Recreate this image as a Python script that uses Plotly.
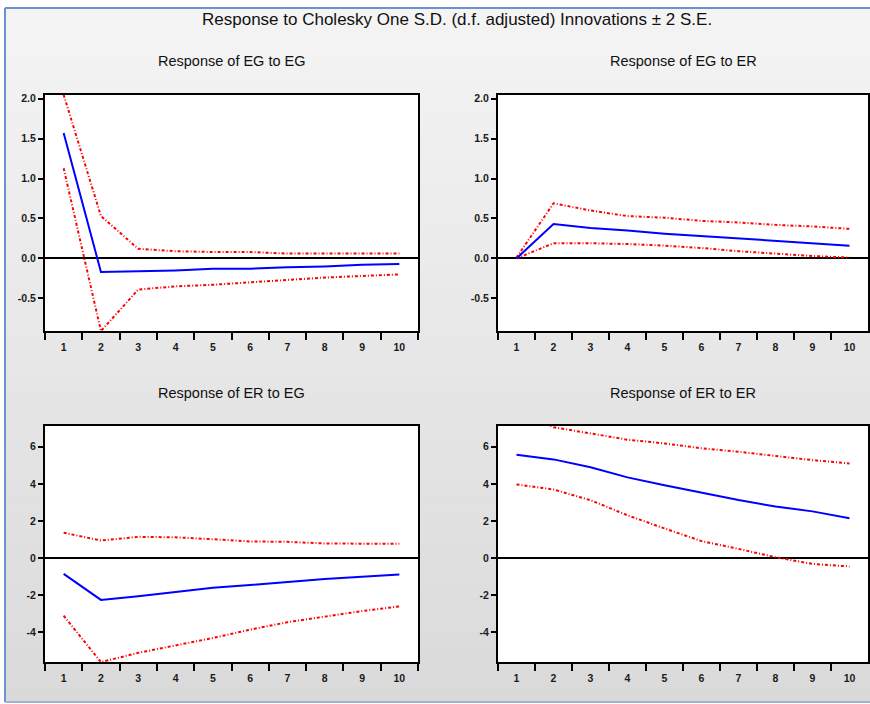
import plotly.graph_objects as go

# Impulse-response horizon (periods)
periods = ["1", "2", "3", "4", "5", "6", "7", "8", "9", "10"]

# Response of EG to EG
eg_eg = [1.57, -0.17, -0.16, -0.15, -0.13, -0.13, -0.11, -0.10, -0.08, -0.07]
eg_eg_hi = [2.05, 0.53, 0.12, 0.09, 0.08, 0.08, 0.06, 0.06, 0.06, 0.06]
eg_eg_lo = [1.13, -0.91, -0.39, -0.35, -0.33, -0.30, -0.27, -0.24, -0.22, -0.20]

# Response of EG to ER
eg_er = [0.0, 0.43, 0.38, 0.35, 0.31, 0.28, 0.25, 0.22, 0.19, 0.16]
eg_er_hi = [0.01, 0.69, 0.60, 0.53, 0.51, 0.47, 0.45, 0.42, 0.40, 0.37]
eg_er_lo = [0.0, 0.19, 0.19, 0.18, 0.16, 0.13, 0.09, 0.06, 0.03, 0.01]

# Response of ER to EG
er_eg = [-0.85, -2.25, -2.05, -1.82, -1.60, -1.45, -1.27, -1.12, -1.00, -0.88]
er_eg_hi = [1.37, 0.95, 1.15, 1.12, 1.02, 0.90, 0.88, 0.79, 0.78, 0.77]
er_eg_lo = [-3.10, -5.60, -5.10, -4.70, -4.30, -3.85, -3.45, -3.15, -2.85, -2.60]

# Response of ER to ER
er_er = [5.57, 5.32, 4.90, 4.35, 3.93, 3.52, 3.13, 2.78, 2.52, 2.15]
er_er_hi = [7.90, 7.05, 6.72, 6.38, 6.18, 5.92, 5.73, 5.50, 5.28, 5.10]
er_er_lo = [3.97, 3.70, 3.12, 2.31, 1.60, 0.92, 0.50, 0.05, -0.31, -0.45]

main_title = "Response to Cholesky One S.D. (d.f. adjusted) Innovations ± 2 S.E."
panel_titles = ["Response of EG to EG", "Response of EG to ER",
                "Response of ER to EG", "Response of ER to ER"]

eg_ticks = [-0.5, 0.0, 0.5, 1.0, 1.5, 2.0]
eg_ticktext = ["-0.5", "0.0", "0.5", "1.0", "1.5", "2.0"]
er_ticks = [-4, -2, 0, 2, 4, 6]
er_ticktext = ["-4", "-2", "0", "2", "4", "6"]

W, H = 870, 704


def px(x):
    return x / W


def py(y):
    return 1 - y / H


# panel boxes in pixels: (left, top, right, bottom)
boxes = [(45, 93, 418, 330), (498, 93, 868, 330),
         (45, 425, 418, 662), (498, 425, 868, 662)]

panels = [
    (eg_eg, eg_eg_lo, eg_eg_hi, eg_ticks, eg_ticktext, [-0.91, 2.05]),
    (eg_er, eg_er_lo, eg_er_hi, eg_ticks, eg_ticktext, [-0.91, 2.05]),
    (er_eg, er_eg_lo, er_eg_hi, er_ticks, er_ticktext, [-5.6, 7.13]),
    (er_er, er_er_lo, er_er_hi, er_ticks, er_ticktext, [-5.6, 7.13]),
]

FONT = "Liberation Sans, Arial, sans-serif"
RED = "#ff0000"
BLUE = "#0000ff"
TICKFONT = dict(size=10.5, family=FONT, color="#1a1a1a", weight="bold")

fig = go.Figure()
layout = dict(
    width=W, height=H,
    margin=dict(l=0, r=0, t=0, b=0),
    paper_bgcolor="#ffffff",
    plot_bgcolor="#ffffff",
    showlegend=False,
    font=dict(family=FONT, color="#111111"),
)

shapes = []
# soft vertical gradient for the window background
n_bands = 40
top_c = (0xF4, 0xF4, 0xF4)
bot_c = (0xDA, 0xDA, 0xDA)
y_top, y_bot = 6, 702
for i in range(n_bands):
    t = i / (n_bands - 1)
    c = tuple(round(top_c[k] + (bot_c[k] - top_c[k]) * t) for k in range(3))
    y0 = y_top + (y_bot - y_top) * i / n_bands
    y1 = y_top + (y_bot - y_top) * (i + 1) / n_bands
    shapes.append(dict(type="rect", xref="paper", yref="paper", layer="below",
                       x0=px(5), x1=1, y0=py(y1 + 0.5), y1=py(y0),
                       fillcolor="rgb(%d,%d,%d)" % c, line=dict(width=0)))
# white plot areas on top of the gradient
for (l, t, r, b) in boxes:
    shapes.append(dict(type="rect", xref="paper", yref="paper", layer="below",
                       x0=px(l), x1=px(r), y0=py(b), y1=py(t),
                       fillcolor="#ffffff", line=dict(width=0)))
# window border lines
border = "#6a93cf"
shapes.append(dict(type="line", xref="paper", yref="paper", x0=px(5), x1=px(5),
                   y0=py(702), y1=py(6), line=dict(color=border, width=2)))
shapes.append(dict(type="line", xref="paper", yref="paper", x0=px(5), x1=1,
                   y0=py(6), y1=py(6), line=dict(color=border, width=2)))
shapes.append(dict(type="line", xref="paper", yref="paper", x0=px(5), x1=1,
                   y0=py(702), y1=py(702), line=dict(color="#9fb3cf", width=2)))

annotations = [dict(text=main_title, xref="paper", yref="paper",
                    x=px(457), y=py(18), xanchor="center", yanchor="middle",
                    showarrow=False, font=dict(size=17, family=FONT, color="#111111"))]

for i, ((resp, lo, hi, tv, tt, yr), (l, t, r, b)) in enumerate(zip(panels, boxes)):
    ax = "" if i == 0 else str(i + 1)
    xa, ya = "x" + ax, "y" + ax
    for series, color, dash in ((hi, RED, "3px,2px,1px,2px"),
                                (lo, RED, "3px,2px,1px,2px"),
                                (resp, BLUE, "solid")):
        fig.add_trace(go.Scatter(x=periods, y=series, mode="lines", xaxis=xa, yaxis=ya,
                                 line=dict(color=color, width=2, dash=dash),
                                 hoverinfo="skip"))
    layout["xaxis" + ax] = dict(
        domain=[px(l), px(r)], anchor=ya, type="category", range=[-0.5, 9.5],
        tickson="boundaries", ticks="outside", ticklen=7, tickwidth=1.5,
        tickcolor="#000000", showline=True, linecolor="#000000", linewidth=2,
        mirror=True, showgrid=False, zeroline=False, ticklabelstandoff=5,
        tickfont=TICKFONT,
    )
    layout["yaxis" + ax] = dict(
        domain=[py(b), py(t)], anchor=xa, range=yr,
        tickmode="array", tickvals=tv, ticktext=tt,
        ticks="outside", ticklen=5, tickwidth=1.5, tickcolor="#000000",
        showline=True, linecolor="#000000", linewidth=2, mirror=True,
        showgrid=False, zeroline=True, zerolinecolor="#000000", zerolinewidth=1.5,
        tickfont=TICKFONT,
    )
    title_y = 59 if i < 2 else 392
    annotations.append(dict(text=panel_titles[i], xref="paper", yref="paper",
                            x=px((l + r) / 2), y=py(title_y), xanchor="center",
                            yanchor="middle", showarrow=False,
                            font=dict(size=14.5, family=FONT, color="#111111")))

layout["shapes"] = shapes
layout["annotations"] = annotations
fig.update_layout(**layout)
fig.write_html("out.html")
